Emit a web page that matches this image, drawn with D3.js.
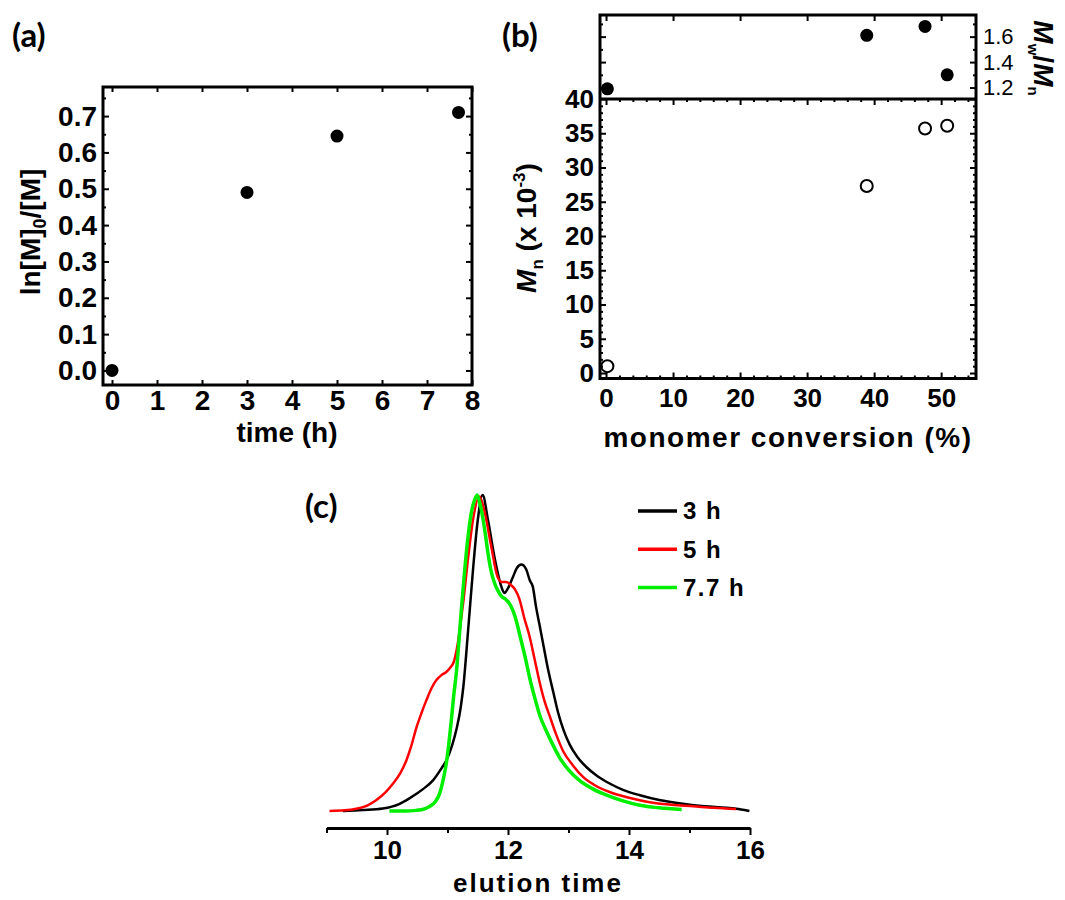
<!DOCTYPE html>
<html>
<head>
<meta charset="utf-8">
<script src="https://cdn.jsdelivr.net/npm/d3@7"></script>
<style>
  body { margin: 0; background: #fff; }
  text { font-family: "Liberation Sans", Arial, sans-serif; }
  .tick line { stroke: #000; stroke-width: 2; }
</style>
</head>
<body>
<svg width="1065" height="900"></svg>
<script>
// ---- data ----
// (a) kinetics
var timeH = [0, 3, 5, 7.7];
var lnRatio = [0.0, 0.49, 0.645, 0.71];

// (b) Mn and dispersity vs conversion
var conversion = [0.2, 38.9, 47.6, 50.9];
var dispersity = [1.19, 1.61, 1.68, 1.30];
var mnK = [1.0, 27.3, 35.7, 36.1];

// (c) GPC traces, [elution time, normalised signal]
var trace3h = [[9.27,0],[9.6,0.003],[9.93,0.008],[10.2,0.022],[10.37,0.04],[10.6,0.07],[10.76,0.097],
  [10.9,0.135],[10.98,0.16],[11.08,0.21],[11.15,0.26],[11.22,0.33],[11.26,0.39],[11.34,0.57],[11.42,0.76],
  [11.5,0.92],[11.58,1.0],[11.67,0.92],[11.78,0.80],[11.89,0.71],[11.94,0.69],[12.0,0.705],[12.08,0.74],
  [12.15,0.77],[12.22,0.78],[12.3,0.765],[12.36,0.73],[12.41,0.71],[12.46,0.65],[12.52,0.59],[12.59,0.52],
  [12.66,0.45],[12.75,0.375],[12.83,0.31],[12.92,0.255],[13.02,0.21],[13.15,0.17],[13.29,0.14],[13.48,0.11],
  [13.68,0.087],[13.9,0.067],[14.18,0.05],[14.5,0.035],[14.89,0.023],[15.25,0.015],[15.61,0.01],[15.85,0.005],[15.99,0.0]];
var trace5h = [[9.05,0],[9.3,0.002],[9.49,0.007],[9.68,0.018],[9.82,0.034],[9.97,0.058],[10.1,0.087],
  [10.22,0.12],[10.32,0.16],[10.4,0.205],[10.48,0.26],[10.57,0.31],[10.65,0.35],[10.74,0.39],[10.82,0.415],
  [10.9,0.43],[10.98,0.44],[11.05,0.455],[11.1,0.47],[11.17,0.53],[11.22,0.6],[11.26,0.66],[11.34,0.80],
  [11.42,0.92],[11.53,0.995],[11.61,0.95],[11.72,0.84],[11.83,0.74],[11.9,0.725],[11.97,0.725],[12.05,0.715],
  [12.12,0.7],[12.19,0.67],[12.27,0.61],[12.36,0.55],[12.44,0.48],[12.52,0.41],[12.6,0.35],[12.69,0.30],
  [12.8,0.24],[12.91,0.19],[13.07,0.145],[13.24,0.108],[13.45,0.08],[13.68,0.06],[14.0,0.042],[14.34,0.028],
  [14.7,0.02],[15.06,0.015],[15.4,0.01],[15.77,0.006]];
var trace77h = [[10.04,0],[10.3,0.0],[10.48,0.002],[10.62,0.007],[10.71,0.015],[10.8,0.03],[10.87,0.055],
  [10.93,0.1],[10.98,0.15],[11.02,0.21],[11.06,0.28],[11.1,0.36],[11.15,0.445],[11.19,0.54],[11.23,0.64],
  [11.27,0.73],[11.31,0.815],[11.35,0.885],[11.39,0.94],[11.44,0.98],[11.49,1.0],[11.54,0.97],[11.59,0.92],
  [11.63,0.87],[11.67,0.815],[11.72,0.76],[11.78,0.72],[11.84,0.695],[11.89,0.68],[11.96,0.67],[12.03,0.655],
  [12.09,0.63],[12.14,0.60],[12.21,0.545],[12.28,0.49],[12.36,0.42],[12.44,0.36],[12.53,0.3],[12.63,0.255],
  [12.74,0.21],[12.85,0.17],[13.0,0.13],[13.18,0.097],[13.4,0.07],[13.63,0.05],[13.9,0.032],[14.18,0.018],
  [14.5,0.01],[14.87,0.005]];

var seriesNames = ["3 h", "5 h", "7.7 h"];
var seriesColors = ["#000000", "#ff0000", "#00ee00"];

var svg = d3.select("svg");

// draws an axis, drops the domain line, styles labels
function drawAxis(axis, tx, ty, size, weight) {
  var g = svg.append("g").attr("transform", "translate(" + tx + "," + ty + ")").call(axis);
  g.select(".domain").remove();
  g.selectAll("text").attr("font-family", "Liberation Sans, Arial, sans-serif")
    .attr("font-size", size || 26).attr("font-weight", weight || "bold").attr("fill", "#000");
  return g;
}

function frame(x0, y0, x1, y1) {
  svg.append("rect").attr("x", x0).attr("y", y0).attr("width", x1 - x0).attr("height", y1 - y0)
    .attr("fill", "none").attr("stroke", "#000").attr("stroke-width", 3);
}

function panelLabel(txt, x, y) {
  svg.append("text").attr("x", x).attr("y", y).text(txt)
    .style("font-family", "Lato, 'Open Sans', sans-serif").attr("font-weight", "bold").attr("font-size", 33);
}

// ================= (a) =================
var xA = d3.scaleLinear().domain([-0.2, 8]).range([103, 472]);
var yA = d3.scaleLinear().domain([-0.04, 0.78]).range([385, 87]);
var xTicksA = d3.range(0, 9);
var yTicksA = d3.range(0, 8).map(function(i) { return i / 10; });
var yMinorA = d3.range(0, 8).map(function(i) { return i / 10 + 0.05; });

drawAxis(d3.axisBottom(xA).tickValues(xTicksA).tickSize(-5).tickSizeOuter(0).tickPadding(5).tickFormat(d3.format("d")), 0, 385, 28);
drawAxis(d3.axisTop(xA).tickValues(xTicksA).tickSize(-5).tickSizeOuter(0).tickFormat(""), 0, 87);
drawAxis(d3.axisLeft(yA).tickValues(yTicksA).tickSize(-6).tickSizeOuter(0).tickPadding(6).tickFormat(d3.format(".1f")), 103, 0, 28);
drawAxis(d3.axisLeft(yA).tickValues(yMinorA).tickSize(-3).tickSizeOuter(0).tickFormat(""), 103, 0);
drawAxis(d3.axisRight(yA).tickValues(yTicksA).tickSize(-6).tickSizeOuter(0).tickFormat(""), 472, 0);
drawAxis(d3.axisRight(yA).tickValues(yMinorA).tickSize(-3).tickSizeOuter(0).tickFormat(""), 472, 0);
frame(103, 87, 472, 385);

svg.append("g").selectAll("circle").data(timeH).join("circle")
  .attr("cx", function(d) { return xA(d); })
  .attr("cy", function(d, i) { return yA(lnRatio[i]); })
  .attr("r", 6.5).attr("fill", "#000");

svg.append("text").attr("x", 287).attr("y", 442).attr("text-anchor", "middle")
  .attr("font-size", 28).attr("font-weight", "bold").text("time (h)");

var ylA = svg.append("text").attr("transform", "translate(40,232) rotate(-90)")
  .attr("text-anchor", "middle").attr("font-size", 28).attr("font-weight", "bold");
ylA.append("tspan").text("ln[M]");
ylA.append("tspan").attr("font-size", 18).attr("dy", 6).text("0");
ylA.append("tspan").attr("dy", -6).text("/[M]");

panelLabel("(a)", 12, 47);

// ================= (b) =================
var xB = d3.scaleLinear().domain([-0.9, 55.2]).range([600, 976]);
var yBtop = d3.scaleLinear().domain([1.11, 1.77]).range([99, 15]);
var yBbot = d3.scaleLinear().domain([-0.8, 40]).range([378.5, 99]);

var xMajorB = d3.range(0, 60, 10);
var xMinorB = d3.range(2, 56, 2).filter(function(v) { return v % 10 !== 0; });
var yMajorBot = d3.range(0, 45, 5);
var yMinorBot = d3.range(1, 40).filter(function(v) { return v % 5 !== 0; });
var yMajorTop = [1.2, 1.4, 1.6];
var yMinorTop = [1.3, 1.5, 1.7];

// lower panel
drawAxis(d3.axisBottom(xB).tickValues(xMajorB).tickSize(-6).tickSizeOuter(0).tickPadding(10).tickFormat(d3.format("d")), 0, 378.5, 26);
drawAxis(d3.axisBottom(xB).tickValues(xMinorB).tickSize(-3).tickSizeOuter(0).tickFormat(""), 0, 378.5);
drawAxis(d3.axisTop(xB).tickValues(xMajorB).tickSize(-6).tickSizeOuter(0).tickFormat(""), 0, 99);
drawAxis(d3.axisTop(xB).tickValues(xMinorB).tickSize(-3).tickSizeOuter(0).tickFormat(""), 0, 99);
drawAxis(d3.axisLeft(yBbot).tickValues(yMajorBot).tickSize(-6).tickSizeOuter(0).tickPadding(6).tickFormat(d3.format("d")), 600, 0, 26);
drawAxis(d3.axisLeft(yBbot).tickValues(yMinorBot).tickSize(-3).tickSizeOuter(0).tickFormat(""), 600, 0);
drawAxis(d3.axisRight(yBbot).tickValues(yMajorBot).tickSize(-6).tickSizeOuter(0).tickFormat(""), 976, 0);
drawAxis(d3.axisRight(yBbot).tickValues(yMinorBot).tickSize(-3).tickSizeOuter(0).tickFormat(""), 976, 0);

// upper panel
drawAxis(d3.axisTop(xB).tickValues(xMajorB).tickSize(-6).tickSizeOuter(0).tickFormat(""), 0, 15);
drawAxis(d3.axisLeft(yBtop).tickValues(yMajorTop).tickSize(-6).tickSizeOuter(0).tickFormat(""), 600, 0);
drawAxis(d3.axisLeft(yBtop).tickValues(yMinorTop).tickSize(-3).tickSizeOuter(0).tickFormat(""), 600, 0);
drawAxis(d3.axisRight(yBtop).tickValues(yMajorTop).tickSize(-6).tickSizeOuter(0).tickPadding(7).tickFormat(d3.format(".1f")), 976, 0, 22, "normal");
drawAxis(d3.axisRight(yBtop).tickValues(yMinorTop).tickSize(-3).tickSizeOuter(0).tickFormat(""), 976, 0);

frame(600, 15, 976, 378.5);
svg.append("line").attr("x1", 600).attr("x2", 976).attr("y1", 99).attr("y2", 99)
  .attr("stroke", "#000").attr("stroke-width", 3);

svg.append("g").selectAll("circle").data(conversion).join("circle")
  .attr("cx", function(d) { return xB(d); })
  .attr("cy", function(d, i) { return yBtop(dispersity[i]); })
  .attr("r", 6.5).attr("fill", "#000");

svg.append("g").selectAll("circle").data(conversion).join("circle")
  .attr("cx", function(d) { return xB(d); })
  .attr("cy", function(d, i) { return yBbot(mnK[i]); })
  .attr("r", 6).attr("fill", "none").attr("stroke", "#000").attr("stroke-width", 2);

svg.append("text").attr("x", 788).attr("y", 447).attr("text-anchor", "middle")
  .attr("font-size", 28).attr("font-weight", "bold").attr("letter-spacing", 1.5)
  .text("monomer conversion (%)");

var ylB = svg.append("text").attr("transform", "translate(536,228) rotate(-90)")
  .attr("text-anchor", "middle").attr("font-size", 28).attr("font-weight", "bold");
ylB.append("tspan").attr("font-style", "italic").text("M");
ylB.append("tspan").attr("font-size", 17).attr("dy", 7).text("n");
ylB.append("tspan").attr("dy", -7).text(" (x 10");
ylB.append("tspan").attr("font-size", 17).attr("dy", -11).text("-3");
ylB.append("tspan").attr("dy", 11).text(")");

var yrB = svg.append("text").attr("transform", "translate(1034,58) rotate(90)")
  .attr("text-anchor", "middle").attr("font-size", 28).attr("font-weight", "bold");
yrB.append("tspan").attr("font-style", "italic").text("M");
yrB.append("tspan").attr("font-size", 15).attr("dy", 6).text("w");
yrB.append("tspan").attr("dy", -6).text("/");
yrB.append("tspan").attr("font-style", "italic").text("M");
yrB.append("tspan").attr("font-size", 15).attr("dy", 6).text("n");

panelLabel("(b)", 502, 47);

// ================= (c) =================
var xC = d3.scaleLinear().domain([9, 16]).range([326.5, 750]);
var yC = d3.scaleLinear().domain([0, 1]).range([811, 495]);

var gx = svg.append("g").attr("transform", "translate(0,828)")
  .call(d3.axisBottom(xC).tickValues([10, 12, 14, 16]).tickSize(7).tickSizeOuter(0).tickPadding(6).tickFormat(d3.format("d")));
gx.select(".domain").attr("stroke-width", 3);
gx.selectAll("text").attr("font-size", 26).attr("font-weight", "bold")
  .attr("font-family", "Liberation Sans, Arial, sans-serif").attr("fill", "#000");
svg.append("g").attr("transform", "translate(0,828)")
  .call(d3.axisBottom(xC).tickValues([9, 11, 13, 15]).tickSize(5).tickSizeOuter(0).tickFormat(""))
  .select(".domain").remove();

var line = d3.line().x(function(d) { return xC(d[0]); }).y(function(d) { return yC(d[1]); })
  .curve(d3.curveMonotoneX);

[trace3h, trace5h, trace77h].forEach(function(tr, i) {
  svg.append("path").datum(tr).attr("d", line).attr("fill", "none")
    .attr("stroke", seriesColors[i]).attr("stroke-width", i === 2 ? 3.5 : 2.5)
    .attr("stroke-linejoin", "round");
});

var legend = svg.append("g").selectAll("g").data(seriesNames).join("g")
  .attr("transform", function(d, i) { return "translate(638," + (511 + i * 38.3) + ")"; });
legend.append("line").attr("x1", 0).attr("x2", 39)
  .attr("stroke", function(d, i) { return seriesColors[i]; }).attr("stroke-width", 3.5);
legend.append("text").attr("x", 45).attr("dy", "0.35em").attr("font-size", 24)
  .attr("font-weight", "bold").attr("letter-spacing", 1.5).text(function(d) { return d; });

svg.append("text").attr("x", 538).attr("y", 892).attr("text-anchor", "middle")
  .attr("font-size", 26).attr("font-weight", "bold").attr("letter-spacing", 2).text("elution time");

panelLabel("(c)", 305, 518);
</script>
</body>
</html>
